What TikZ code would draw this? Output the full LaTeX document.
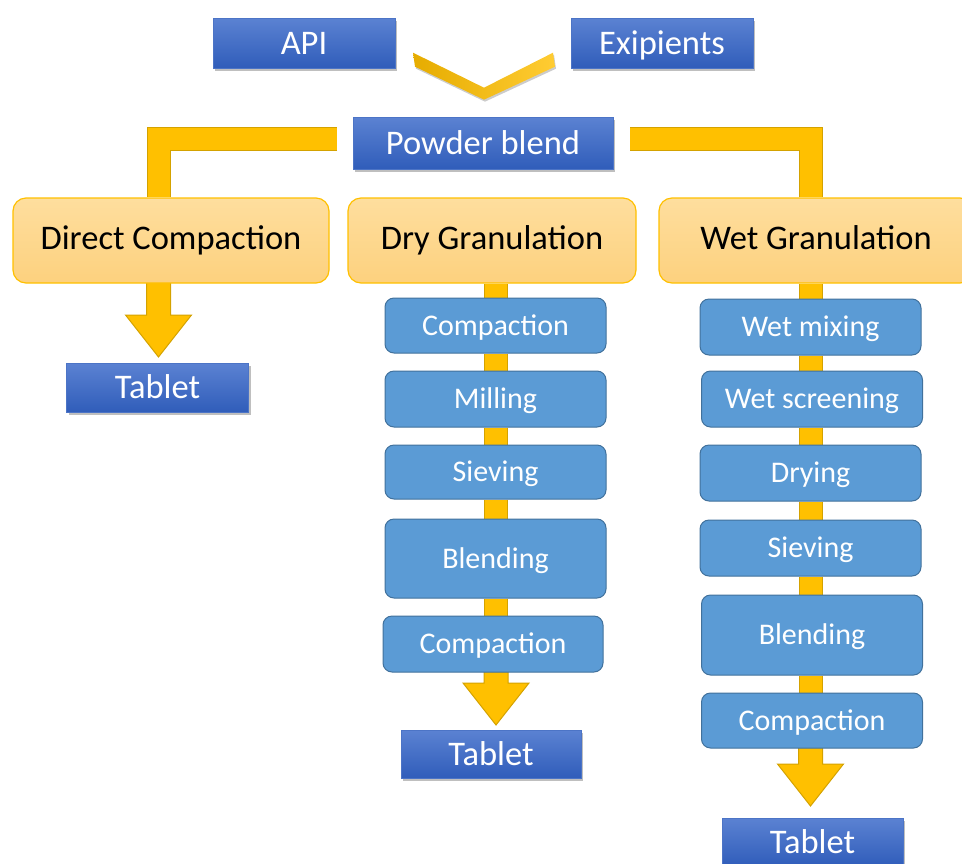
\documentclass[tikz,border=0pt]{standalone}
\usepackage{fontspec}
\setmainfont{Carlito}
\usetikzlibrary{calc,shadows}

\definecolor{connfill}{HTML}{FFC000}
\definecolor{connedge}{HTML}{D4A200}
\definecolor{bluetop}{HTML}{5B82D2}
\definecolor{bluebot}{HTML}{305DBA}
\definecolor{blueedge}{HTML}{4C74C6}
\definecolor{cattop}{HTML}{FEDE9E}
\definecolor{catbot}{HTML}{FDD17E}
\definecolor{catedge}{HTML}{FFC000}
\definecolor{stepfill}{HTML}{5B9BD5}
\definecolor{stepedge}{HTML}{41719C}
\definecolor{chevleft}{HTML}{E6AC00}
\definecolor{chevright}{HTML}{FFCC33}

\pgfdeclarelayer{bg}
\pgfsetlayers{bg,main}

% yellow block arrow from the bottom of a box down to a tip coordinate
\newcommand\flowarrow[2]{%
  \path[flow] let \p1=(#1.south), \p2=(#2) in
    (\x2-12pt,\y1+2pt) -- (\x2-12pt,\y2+42pt) -- (\x2-33pt,\y2+42pt) --
    (\x2,\y2) -- (\x2+33pt,\y2+42pt) -- (\x2+12pt,\y2+42pt) --
    (\x2+12pt,\y1+2pt) -- cycle;}

\begin{document}
\begin{tikzpicture}[x=1pt,y=-1pt,
  blueblock/.style={rectangle, inner sep=0pt, top color=bluetop, bottom color=bluebot,
    draw=blueedge, line width=0.6pt, text=white,
    font=\fontsize{34.5}{40}\selectfont, text height=22pt, text depth=0pt,
    drop shadow={shadow xshift=2pt, shadow yshift=-3pt, opacity=0.25, fill=black}},
  catblock/.style={rectangle, rounded corners=13pt, inner sep=0pt, top color=cattop,
    bottom color=catbot, draw=catedge, line width=1.2pt, text=black,
    minimum height=85pt,
    font=\fontsize{34.5}{40}\selectfont, text height=22pt, text depth=4pt},
  stepblock/.style={rectangle, rounded corners=9pt, inner sep=0pt, fill=stepfill,
    draw=stepedge, line width=1pt, text=white,
    font=\fontsize{30}{36}\selectfont, text height=19pt, text depth=0pt},
  conn/.style={draw=connedge, line width=1pt, double=connfill, double distance=22pt,
    line join=miter},
  flow/.style={fill=connfill, draw=connedge, line width=1pt, line join=miter},
  chevron/.style={left color=chevleft, right color=chevright, draw=none,
    drop shadow={shadow xshift=1pt, shadow yshift=-2pt, opacity=0.2, fill=black}}
]
\useasboundingbox (0,0) rectangle (962,863);
\clip (0,0) rectangle (962,863);

% inputs and blend
\node[blueblock, minimum width=182pt, minimum height=50pt] (api) at (304,43) {API};
\node[blueblock, minimum width=182pt, minimum height=50pt] (exc) at (662,43) {Exipients};
\node[blueblock, minimum width=260pt, minimum height=52pt] (pb) at (483,143) {Powder blend};

% three routes
\node[catblock, minimum width=316pt] (dc) at (171,240.5) {Direct Compaction};
\node[catblock, minimum width=288pt] (dg) at (492,240.5) {Dry Granulation};
\node[catblock, minimum width=314pt] (wg) at (816,240.5) {Wet Granulation};

% direct compaction
\node[blueblock, minimum width=182pt, minimum height=49pt] (tabA) at (157.5,387.5) {Tablet};

% dry granulation steps
\node[stepblock, minimum width=221pt, minimum height=55pt] (d1) at (495.5,325.5) {Compaction};
\node[stepblock, minimum width=221pt, minimum height=56pt] (d2) at (495.5,399) {Milling};
\node[stepblock, minimum width=221pt, minimum height=54pt] (d3) at (495.5,472) {Sieving};
\node[stepblock, minimum width=221pt, minimum height=79pt] (d4) at (495.5,558.5) {Blending};
\node[stepblock, minimum width=220pt, minimum height=56pt] (d5) at (493,644) {Compaction};
\node[blueblock, minimum width=180pt, minimum height=48pt] (tabB) at (491,754) {Tablet};

% wet granulation steps
\node[stepblock, minimum width=221pt, minimum height=56pt] (w1) at (810.5,327) {Wet mixing};
\node[stepblock, minimum width=221pt, minimum height=56pt] (w2) at (812,399) {Wet screening};
\node[stepblock, minimum width=221pt, minimum height=56pt] (w3) at (810.5,473) {Drying};
\node[stepblock, minimum width=221pt, minimum height=56pt] (w4) at (810.5,548) {Sieving};
\node[stepblock, minimum width=221pt, minimum height=80pt] (w5) at (812,635) {Blending};
\node[stepblock, minimum width=221pt, minimum height=55pt] (w6) at (812,720.5) {Compaction};
\node[blueblock, minimum width=181pt, minimum height=48pt] (tabC) at (812.5,842) {Tablet};

% arrow tips above the tablets
\coordinate (tipA) at (158.5,357);
\coordinate (tipB) at (496,725);
\coordinate (tipC) at (810.5,806);

\begin{pgfonlayer}{bg}
  % API + excipients merge into the blend
  \coordinate (apex) at ($(pb.north)+(1,-17)$);
  \path[chevron] ($(apex)+(-71,-47)$) -- ($(apex)+(0,-12)$) -- ($(apex)+(69,-47)$)
    -- ($(apex)+(71,-33)$) -- (apex) -- ($(apex)+(-69,-33)$) -- cycle;

  % blend splits into the three routes
  \draw[conn] ([xshift=-16pt, yshift=4.3pt]pb.west) -| ([xshift=-12.5pt]dc.north);
  \draw[conn] ([xshift=17pt, yshift=4.3pt]pb.east) -| ([xshift=-5.5pt]wg.north);

  % dry granulation chain
  \draw[conn] (d1.north |- dg.south) -- (d1.north);
  \draw[conn] (d1.south) -- (d1.south |- d2.north);
  \draw[conn] (d2.south) -- (d2.south |- d3.north);
  \draw[conn] (d3.south) -- (d3.south |- d4.north);
  \draw[conn] (d4.south) -- (d4.south |- d5.north);

  % wet granulation chain
  \draw[conn] (w1.north |- wg.south) -- (w1.north);
  \draw[conn] (w1.south) -- (w1.south |- w2.north);
  \draw[conn] (w3.north |- w2.south) -- (w3.north);
  \draw[conn] (w3.south) -- (w3.south |- w4.north);
  \draw[conn] (w4.south) -- (w4.south |- w5.north);
  \draw[conn] (w4.south |- w5.south) -- (w4.south |- w6.north);

  % block arrows to the tablets
  \flowarrow{dc}{tipA}
  \flowarrow{d5}{tipB}
  \flowarrow{w6}{tipC}
\end{pgfonlayer}
\end{tikzpicture}
\end{document}
